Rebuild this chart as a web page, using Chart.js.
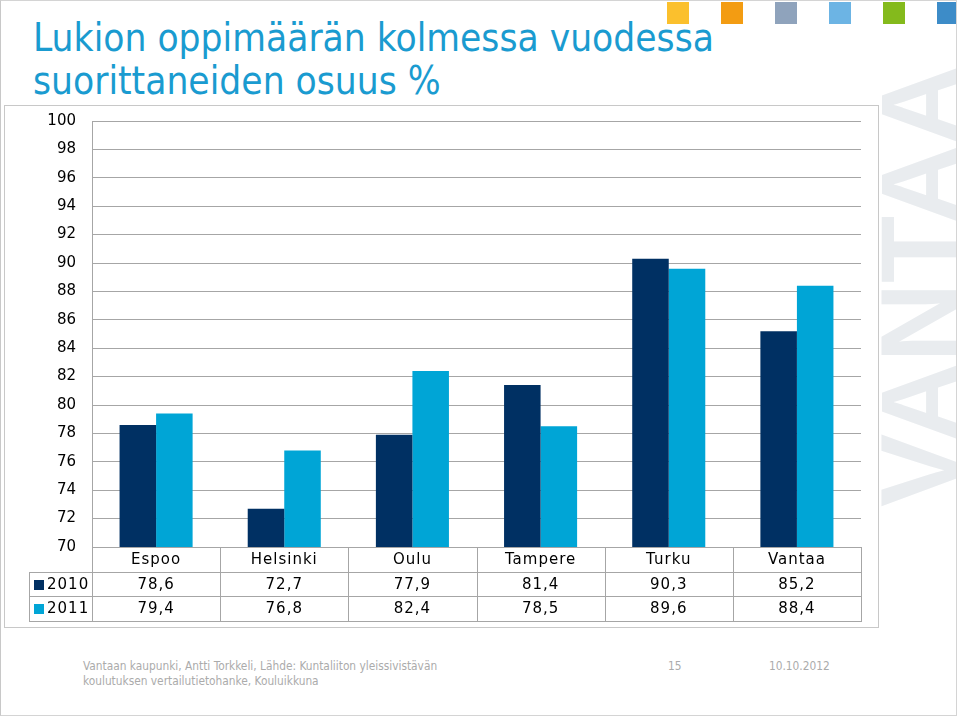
<!DOCTYPE html>
<html>
<head>
<meta charset="utf-8">
<script src="https://cdn.jsdelivr.net/npm/chart.js@4.4.1/dist/chart.umd.min.js"></script>
<style>
    html, body { margin: 0; padding: 0; background: #fff; }
    #slide { position: relative; width: 957px; height: 716px; border: 1px solid #d4d4d4; border-left-color: #c8c8c8; overflow: hidden; box-sizing: border-box; }
    .sq { position: absolute; top: 1px; width: 22px; height: 22px; }
    #title { position: absolute; left: 32px; top: 15px; margin: 0; font: 38.5px/43px "DejaVu Sans Condensed", "Liberation Sans", sans-serif; color: #1a9bd0; font-weight: normal; }
    #mark { position: absolute; left: 863px; top: 506px; transform-origin: 0 0; transform: rotate(-90deg); font: bold 110px/1 "Liberation Sans", sans-serif; color: #e9ecef; white-space: nowrap; }
    #box { position: absolute; left: 3px; top: 104px; width: 875px; height: 523px; border: 1px solid #c8c8c8; box-sizing: border-box; background: #fff; }
    #box canvas { position: absolute; left: 0; top: 0; }
    .foot { position: absolute; font: 11.8px/15px "Liberation Sans Narrow", "DejaVu Sans Condensed", sans-serif; color: #ababab; }
</style>
</head>
<body>
<div id="slide">
    <div class="sq" style="left:666px;background:#fbc02d"></div>
    <div class="sq" style="left:720px;background:#f39c12"></div>
    <div class="sq" style="left:774px;background:#8fa3bc"></div>
    <div class="sq" style="left:828px;background:#6cb4e4"></div>
    <div class="sq" style="left:882px;background:#84ba1c"></div>
    <div class="sq" style="left:936px;background:#3d8cc8"></div>
    <div id="mark">VANTAA</div>
    <h1 id="title">Lukion oppimäärän kolmessa vuodessa<br>suorittaneiden osuus %</h1>
    <div id="box"><canvas id="chart" width="873" height="521"></canvas></div>
    <div class="foot" style="left:82px;top:658px">Vantaan kaupunki, Antti Torkkeli, Lähde: Kuntaliiton yleissivistävän<br>koulutuksen vertailutietohanke, Kouluikkuna</div>
    <div class="foot" style="left:667px;top:658px">15</div>
    <div class="foot" style="left:768px;top:658px">10.10.2012</div>
</div>
<script>
(function () {
    'use strict';

    var categories = ['Espoo', 'Helsinki', 'Oulu', 'Tampere', 'Turku', 'Vantaa'];
    var seriesNames = ['2010', '2011'];
    var values2010 = [78.6, 72.7, 77.9, 81.4, 90.3, 85.2];
    var values2011 = [79.4, 76.8, 82.4, 78.5, 89.6, 88.4];
    var seriesColors = ['#003063', '#00a5d6'];
    var yMin = 70, yMax = 100, yStep = 2;

    var FONT = '15px "DejaVu Sans", Verdana, sans-serif';
    var LINE = '#a6a6a6';

    function fmt(v) {
        return v.toFixed(1).replace('.', ',');
    }

    // data table under the plot, columns follow the x scale
    var tablePlugin = {
        id: 'dataTable',
        afterDraw: function (chart) {
            var ctx = chart.ctx;
            var area = chart.chartArea;
            var x = chart.scales.x;
            var rowH = 24.5;
            var top = area.bottom;
            var colW = (area.right - area.left) / categories.length;
            var legendLeft = area.left - 63;
            var rows = [values2010, values2011];

            ctx.save();
            ctx.strokeStyle = LINE;
            ctx.lineWidth = 1;
            ctx.beginPath();
            ctx.moveTo(area.left, Math.round(top) + 0.5);
            ctx.lineTo(area.right, Math.round(top) + 0.5);
            for (var r = 1; r <= 3; r++) {
                var yy = Math.round(top + r * rowH) + 0.5;
                ctx.moveTo(legendLeft, yy);
                ctx.lineTo(area.right, yy);
            }
            ctx.moveTo(legendLeft + 0.5, Math.round(top + rowH));
            ctx.lineTo(legendLeft + 0.5, Math.round(top + 3 * rowH) + 1);
            for (var c = 0; c <= categories.length; c++) {
                var xx = Math.round(area.left + c * colW) + 0.5;
                ctx.moveTo(xx, Math.round(top));
                ctx.lineTo(xx, Math.round(top + 3 * rowH) + 1);
            }
            ctx.stroke();

            ctx.font = FONT;
            ctx.fillStyle = '#000';
            ctx.textAlign = 'center';
            ctx.textBaseline = 'middle';
            ctx.letterSpacing = '1px';
            categories.forEach(function (name, i) {
                var cx = x.getPixelForValue(i);
                ctx.fillText(name, cx, top + rowH / 2 + 1);
                rows.forEach(function (vals, k) {
                    ctx.fillText(fmt(vals[i]), cx, top + rowH * (k + 1.5) + 1);
                });
            });
            ctx.textAlign = 'left';
            seriesNames.forEach(function (s, k) {
                var cy = top + rowH * (k + 1.5);
                ctx.fillStyle = seriesColors[k];
                ctx.fillRect(legendLeft + 5, Math.round(cy - 4), 10, 10);
                ctx.fillStyle = '#000';
                ctx.fillText(s, legendLeft + 18, cy + 1);
            });
            ctx.restore();
        }
    };

    new Chart(document.getElementById('chart').getContext('2d'), {
        type: 'bar',
        data: {
            labels: categories,
            datasets: [
                { label: seriesNames[0], data: values2010, backgroundColor: seriesColors[0] },
                { label: seriesNames[1], data: values2011, backgroundColor: seriesColors[1] }
            ]
        },
        options: {
            responsive: false,
            animation: false,
            layout: { autoPadding: false, padding: { left: 0, top: 15, right: 17, bottom: 80 } },
            datasets: { bar: { categoryPercentage: 0.57, barPercentage: 1 } },
            plugins: {
                legend: { display: false },
                tooltip: { enabled: false }
            },
            scales: {
                x: { display: false },
                y: {
                    min: yMin,
                    max: yMax,
                    afterFit: function (scale) { scale.width = 87; },
                    border: { display: true, color: LINE },
                    // invisible tick marks give the label gap (ticks.padding would also pad the top)
                    grid: { color: LINE, drawTicks: true, tickLength: 13, tickColor: 'rgba(0,0,0,0)' },
                    ticks: {
                        stepSize: yStep,
                        padding: 3,
                        color: '#000',
                        font: { family: '"DejaVu Sans", Verdana, sans-serif', size: 15 }
                    }
                }
            }
        },
        plugins: [tablePlugin]
    });
})();
</script>
</body>
</html>
